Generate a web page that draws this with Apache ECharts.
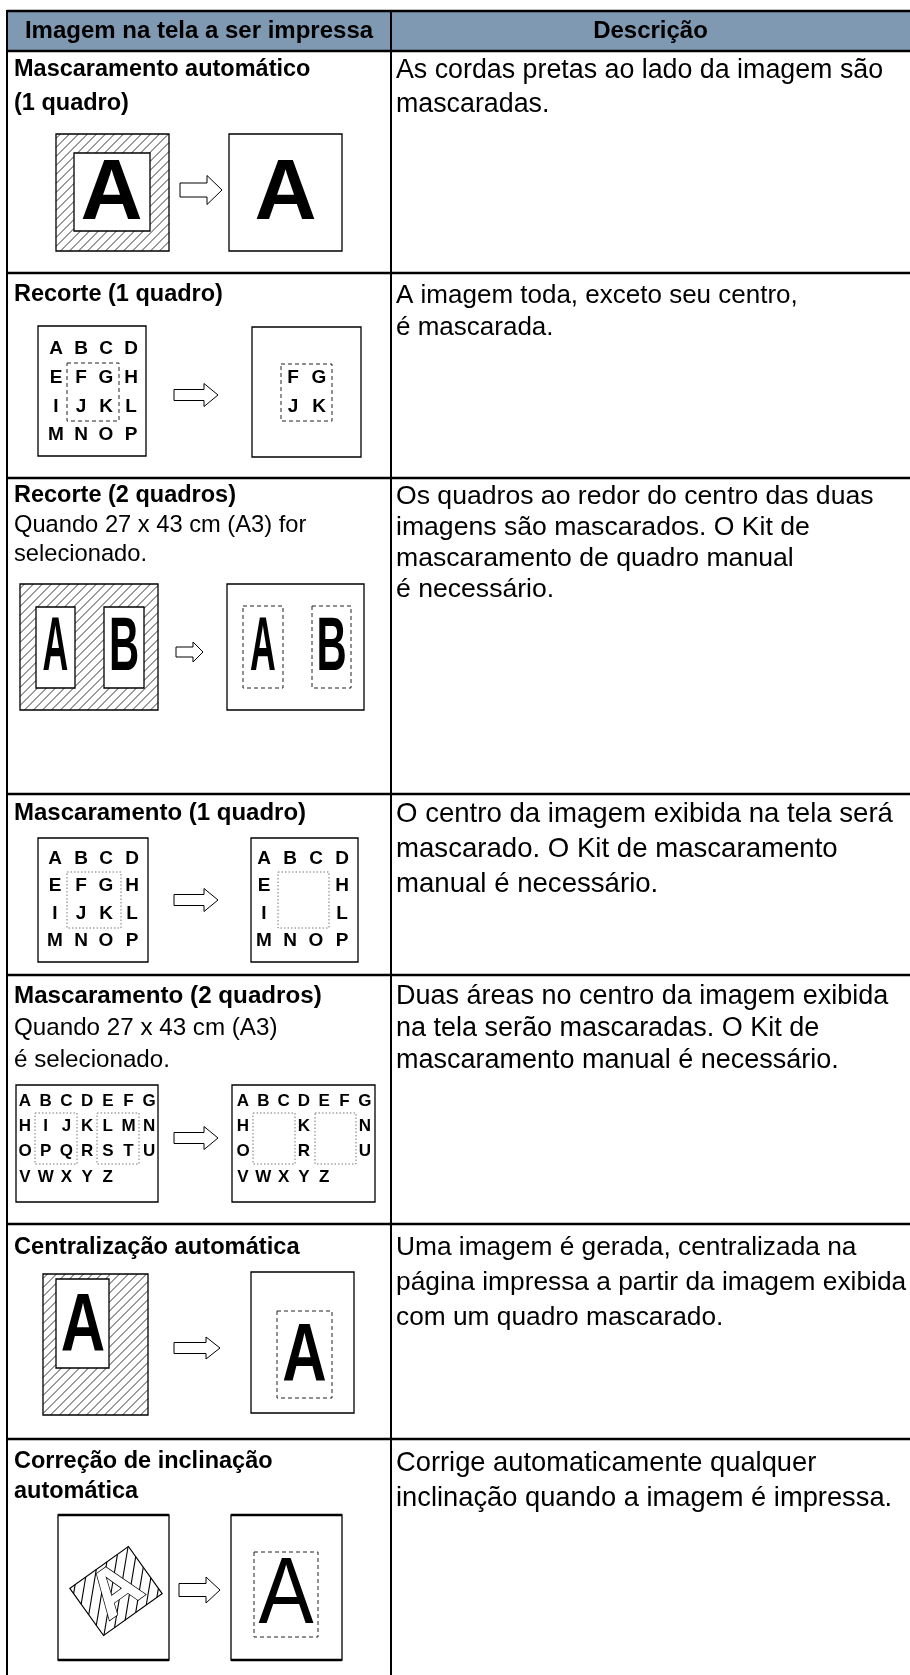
<!DOCTYPE html>
<html><head><meta charset="utf-8">
<script src="https://cdn.jsdelivr.net/npm/echarts@6/dist/echarts.min.js"></script>
<style>html,body{margin:0;padding:0;background:#fff}#c{width:910px;height:1675px}</style>
</head><body><div id="c"></div>
<script>
// ---------- content ----------
const headers = ['Imagem na tela a ser impressa', 'Descrição'];
const rowTitles = [
  ['Mascaramento automático', '(1 quadro)'],
  ['Recorte (1 quadro)'],
  ['Recorte (2 quadros)'],
  ['Mascaramento (1 quadro)'],
  ['Mascaramento (2 quadros)'],
  ['Centralização automática'],
  ['Correção de inclinação', 'automática']
];
const rowSubtitles = [[], [], ['Quando 27 x 43 cm (A3) for', 'selecionado.'], [], ['Quando 27 x 43 cm (A3)', 'é selecionado.'], [], []];
const descriptions = [
  ['As cordas pretas ao lado da imagem são', 'mascaradas.'],
  ['A imagem toda, exceto seu centro,', 'é mascarada.'],
  ['Os quadros ao redor do centro das duas', 'imagens são mascarados. O Kit de', 'mascaramento de quadro manual', 'é necessário.'],
  ['O centro da imagem exibida na tela será', 'mascarado. O Kit de mascaramento', 'manual é necessário.'],
  ['Duas áreas no centro da imagem exibida', 'na tela serão mascaradas. O Kit de', 'mascaramento manual é necessário.'],
  ['Uma imagem é gerada, centralizada na', 'página impressa a partir da imagem exibida', 'com um quadro mascarado.'],
  ['Corrige automaticamente qualquer', 'inclinação quando a imagem é impressa.']
];
const grid4 = ['ABCD', 'EFGH', 'IJKL', 'MNOP'];
const grid4Masked = ['ABCD', 'E  H', 'I  L', 'MNOP'];
const grid4Cropped = ['FG', 'JK'];
const grid7 = ['ABCDEFG', 'HIJKLMN', 'OPQRSTU', 'VWXYZ'];
const grid7Masked = ['ABCDEFG', 'H  K  N', 'O  R  U', 'VWXYZ'];

// ---------- layout / style ----------
const FONT = '"Liberation Sans", Arial, Helvetica, sans-serif';
const LAY = { left: 7, mid: 391, right: 910, top: 11, head: 51,
  rows: [51, 273, 478, 794, 975, 1224, 1439, 1675] };
const titleSize = [23.5, 23.5, 23.5, 24, 24.2, 23.7, 23.5];
const subSize = [0, 0, 23.7, 0, 24.2, 0, 0];
const descSize = [26.8, 26, 26.6, 27.6, 27, 26.3, 27.3];
const titleY = [70, 295, 496, 813, 996, 1247, 1462];
const leftGap = [34, 30, 29, 32, 32, 30, 30];
const descGap = [34, 32, 31, 35, 32, 35, 35];

const els = [];
function T(str, x, y, size, bold, align, extra, styleExtra) {
  return Object.assign({ type: 'text', x: x, y: y, silent: true,
    style: Object.assign({ text: str, x: 0, y: 0, fill: '#000',
      font: (bold ? 'bold ' : '') + size + 'px ' + FONT,
      textAlign: align || 'left', textVerticalAlign: 'middle' }, styleExtra || {}) }, extra || {});
}
function R(x0, y0, x1, y1, st) {
  return { type: 'rect', silent: true, shape: { x: x0, y: y0, width: x1 - x0, height: y1 - y0 },
    style: Object.assign({ fill: '#fff', stroke: '#000', lineWidth: 1.3 }, st || {}) };
}
function Ln(x1, y1, x2, y2, w, color, dash) {
  return { type: 'line', silent: true, shape: { x1: x1, y1: y1, x2: x2, y2: y2 },
    style: { stroke: color || '#000', lineWidth: w, lineDash: dash || null } };
}
function hatch(x0, y0, x1, y1, step, w) {
  const out = [];
  for (let c = x0 + y0 + step / 2; c < x1 + y1; c += step) {
    const xa = Math.max(x0, c - y1), xb = Math.min(x1, c - y0);
    if (xb <= xa) continue;
    out.push(Ln(xa, c - xa, xb, c - xb, w));
  }
  return out;
}
function arrow(x0, x1, yc, hs, hh, hl) {
  const xm = x1 - hl;
  return { type: 'polygon', silent: true,
    shape: { points: [[x0, yc - hs], [xm, yc - hs], [xm, yc - hh], [x1, yc], [xm, yc + hh], [xm, yc + hs], [x0, yc + hs]] },
    style: { fill: '#fff', stroke: '#000', lineWidth: 1 } };
}
function dashRect(x0, y0, x1, y1, dotted) {
  return R(x0, y0, x1, y1, dotted ? { fill: 'none', stroke: '#777', lineWidth: 1, lineDash: [1.5, 2] }
                                   : { fill: 'none', stroke: '#222', lineWidth: 1, lineDash: [4, 3] });
}
function letters(rows, cols, ys, size) {
  rows.forEach((r, i) => {
    for (let j = 0; j < r.length; j++) {
      if (r[j] === ' ') continue;
      els.push(T(r[j], cols[j], ys[i], size, true, 'center'));
    }
  });
}
function range(a, step, n) { const o = []; for (let i = 0; i < n; i++) o.push(a + step * i); return o; }

// ---------- table frame ----------
els.push(R(LAY.left, LAY.top, LAY.right + 5, LAY.head, { fill: '#8099b2', stroke: 'none', lineWidth: 0 }));
els.push(T(headers[0], (LAY.left + LAY.mid) / 2, 31, 24, true, 'center'));
els.push(T(headers[1], (LAY.mid + LAY.right) / 2, 31, 24, true, 'center'));

// ---------- row texts ----------
for (let i = 0; i < rowTitles.length; i++) {
  let y = titleY[i];
  rowTitles[i].forEach(t => { els.push(T(t, 14, y, titleSize[i], true)); y += leftGap[i]; });
  rowSubtitles[i].forEach(t => { els.push(T(t, 14, y, subSize[i], false)); y += leftGap[i]; });
  let yd = titleY[i] + 1;
  descriptions[i].forEach(t => { els.push(T(t, 396, yd, descSize[i], false)); yd += descGap[i]; });
}

// ---------- row 1 : automatic masking ----------
els.push(R(56, 134, 169, 251));
hatch(56, 134, 169, 251, 9, 0.8).forEach(e => els.push(e));
els.push(R(74, 153, 150, 231));
els.push(T('A', 111.5, 195, 86, true, 'center'));
els.push(arrow(180, 222, 190, 7, 14.5, 15));
els.push(R(229, 134, 342, 251));
els.push(T('A', 285.5, 195, 86, true, 'center'));

// ---------- row 2 : crop 1 frame ----------
els.push(R(38, 326, 146, 456));
letters(grid4, [56, 81, 106, 131], [349, 378, 407, 435], 19);
els.push(dashRect(67, 363, 119, 421));
els.push(arrow(174, 218, 395, 5.5, 11.5, 14));
els.push(R(252, 327, 361, 457));
els.push(dashRect(281, 364, 332, 421));
letters(grid4Cropped, [293, 319], [378, 407], 19);

// ---------- row 3 : crop 2 frames ----------
els.push(R(20, 584, 158, 710));
hatch(20, 584, 158, 710, 9, 0.8).forEach(e => els.push(e));
els.push(R(36, 607, 75, 688));
els.push(R(104, 607, 144, 688));
els.push(T('A', 55.5, 649, 76, true, 'center', { scaleX: 0.47 }));
els.push(T('B', 124, 649, 76, true, 'center', { scaleX: 0.55 }));
els.push(arrow(176, 203, 652, 5, 10, 10));
els.push(R(227, 584, 364, 710));
els.push(dashRect(243, 606, 283, 688));
els.push(dashRect(312, 606, 351, 688));
els.push(T('A', 263, 649, 76, true, 'center', { scaleX: 0.47 }));
els.push(T('B', 331.5, 649, 76, true, 'center', { scaleX: 0.55 }));

// ---------- row 4 : masking 1 frame ----------
els.push(R(38, 838, 148, 962));
letters(grid4, [55, 81, 106, 132], [859, 886, 914, 941], 19);
els.push(dashRect(67, 872, 121, 928, true));
els.push(arrow(174, 218, 900, 5.5, 11.5, 14));
els.push(R(251, 838, 358, 962));
letters(grid4Masked, [264, 290, 316, 342], [859, 886, 914, 941], 19);
els.push(dashRect(278, 872, 329, 928, true));

// ---------- row 5 : masking 2 frames ----------
els.push(R(16, 1085, 158, 1202));
letters(grid7, range(25, 20.7, 7), [1101, 1126, 1151, 1177], 17);
els.push(dashRect(35, 1113, 77, 1164, true));
els.push(dashRect(97, 1113, 139, 1164, true));
els.push(arrow(174, 218, 1138, 5.5, 11.5, 14));
els.push(R(232, 1085, 375, 1202));
letters(grid7Masked, range(243, 20.3, 7), [1101, 1126, 1151, 1177], 17);
els.push(dashRect(253, 1113, 295, 1164, true));
els.push(dashRect(315, 1113, 356, 1164, true));

// ---------- row 6 : auto centering ----------
els.push(R(43, 1274, 148, 1415));
hatch(43, 1274, 148, 1415, 9, 0.8).forEach(e => els.push(e));
els.push(R(56, 1279, 109, 1368));
els.push(T('A', 83, 1327, 82, true, 'center', { scaleX: 0.75 }));
els.push(arrow(174, 220, 1348, 5.5, 11, 14));
els.push(R(251, 1272, 354, 1413));
els.push(dashRect(277, 1311, 332, 1398));
els.push(T('A', 304.5, 1357, 82, true, 'center', { scaleX: 0.75 }));

// ---------- row 7 : skew correction ----------
els.push(R(58, 1515, 169, 1660));
els.push(Ln(58, 1515, 169, 1515, 2.5));
els.push(Ln(58, 1660, 169, 1660, 2.5));
const dW = 72, dH = 58;
const diamond = [R(-dW / 2, -dH / 2, dW / 2, dH / 2, { lineWidth: 1.2 })]
  .concat(hatch(-dW / 2, -dH / 2, dW / 2, dH / 2, 13, 1.1))
  .concat([T('A', 0, 2, 66, true, 'center', {}, { fill: '#fff', stroke: '#000', lineWidth: 1.4 })]);
els.push({ type: 'group', x: 116, y: 1591, rotation: 0.62, silent: true, children: diamond });
els.push(arrow(179, 220, 1590, 6.5, 13, 14));
els.push(R(231, 1515, 342, 1660));
els.push(Ln(231, 1515, 342, 1515, 2.5));
els.push(Ln(231, 1660, 342, 1660, 2.5));
els.push(dashRect(254, 1552, 318, 1637));
els.push(T('A', 286, 1597, 94, false, 'center', { scaleX: 0.88 }));

// ---------- grid lines on top ----------
els.push(Ln(LAY.left, LAY.top, LAY.right + 5, LAY.top, 2.5));
LAY.rows.slice(0, 7).forEach(y => els.push(Ln(LAY.left, y, LAY.right + 5, y, 2.5)));
els.push(Ln(LAY.left, LAY.top - 1, LAY.left, 1680, 2));
els.push(Ln(LAY.mid, LAY.top - 1, LAY.mid, 1680, 2));

const chart = echarts.init(document.getElementById('c'), null, { renderer: 'canvas' });
chart.setOption({ animation: false, backgroundColor: '#fff', graphic: { elements: els } });
</script>
</body></html>
